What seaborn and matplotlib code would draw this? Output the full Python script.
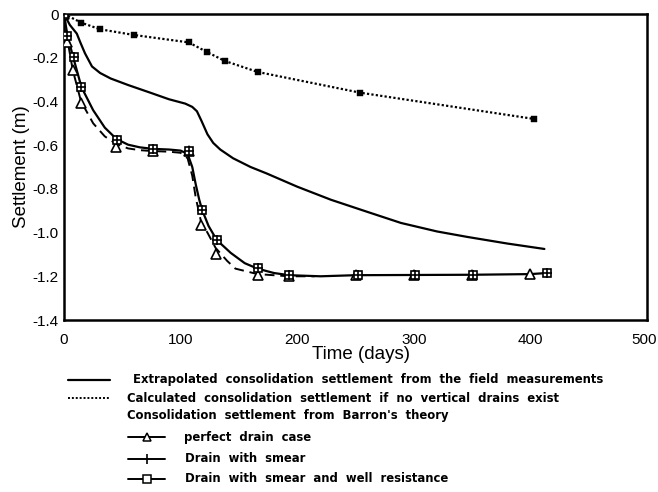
import matplotlib
matplotlib.use("Agg")
import matplotlib.pyplot as plt
import matplotlib.transforms as mtransforms
import seaborn as sns

# ---------------- data ----------------
# Extrapolated consolidation settlement from field measurements (solid)
field_t = [0, 2, 5, 8, 11, 14, 18, 24, 31, 40, 55, 74, 90, 104, 110, 114, 118, 123,
           128, 134, 145, 160, 174, 200, 229, 260, 289, 320, 346, 380, 412]
field_s = [0, -0.02, -0.05, -0.07, -0.09, -0.13, -0.18, -0.24, -0.27, -0.295, -0.325,
           -0.36, -0.39, -0.41, -0.425, -0.445, -0.49, -0.55, -0.59, -0.62, -0.66,
           -0.70, -0.73, -0.79, -0.85, -0.905, -0.956, -0.995, -1.02, -1.05, -1.075]

# Calculated settlement without vertical drains (dotted, small filled squares)
nodrain_t = [0, 15, 31, 60, 107, 123, 138, 166, 254, 403]
nodrain_s = [0, -0.04, -0.07, -0.096, -0.13, -0.175, -0.215, -0.265, -0.36, -0.48]

# Barron's theory - perfect drain (dashed curve + triangles)
perfect_curve_t = [0, 3, 7.5, 14.6, 25, 35, 45, 55, 65, 76, 90, 100, 106, 110, 113,
                   117.5, 123, 130, 140, 147, 166, 193, 215]
perfect_curve_s = [0, -0.12, -0.256, -0.4, -0.5, -0.56, -0.595, -0.615, -0.623, -0.627,
                   -0.63, -0.635, -0.66, -0.74, -0.84, -0.95, -1.0, -1.07, -1.13,
                   -1.165, -1.19, -1.2, -1.2]
perfect_pts_t = [0, 2.5, 7.5, 14.6, 45, 76, 107, 117.5, 130, 166, 193, 250, 300, 350, 400]
perfect_pts_s = [0, -0.13, -0.256, -0.405, -0.61, -0.625, -0.625, -0.965, -1.098,
                 -1.194, -1.2, -1.195, -1.195, -1.195, -1.19]

# Barron's theory - drain with smear (solid curve + plus markers)
smear_curve_t = [0, 3, 8, 15, 25, 35, 45, 55, 65, 76, 90, 100, 106, 110, 113, 116,
                 118.5, 124, 131, 143, 155, 166, 180, 193, 220, 250, 300, 350, 400, 414]
smear_curve_s = [0, -0.1, -0.2, -0.335, -0.44, -0.52, -0.572, -0.598, -0.61, -0.617,
                 -0.62, -0.625, -0.64, -0.7, -0.78, -0.85, -0.897, -0.97, -1.034,
                 -1.093, -1.14, -1.165, -1.185, -1.195, -1.2, -1.195, -1.194, -1.193,
                 -1.19, -1.185]
smear_pts_t = [0, 2.5, 8.6, 14.6, 45.6, 76.5, 107, 118.5, 131, 166, 193, 252, 301, 351, 414]
smear_pts_s = [0, -0.1, -0.196, -0.335, -0.577, -0.618, -0.625, -0.897, -1.034,
               -1.162, -1.195, -1.194, -1.194, -1.194, -1.185]

# Barron's theory - drain with smear and well resistance (square markers)
well_pts_t = [0, 2.5, 8.6, 14.6, 45.6, 76.5, 107, 118.5, 131, 166, 193, 252, 301, 351, 414]
well_pts_s = [0, -0.1, -0.196, -0.335, -0.577, -0.618, -0.625, -0.897, -1.034,
              -1.162, -1.195, -1.194, -1.194, -1.194, -1.185]

x_ticks = [0, 100, 200, 300, 400, 500]
y_ticks = [0, -0.2, -0.4, -0.6, -0.8, -1.0, -1.2, -1.4]
y_tick_labels = ["0", "-0.2", "-0.4", "-0.6", "-0.8", "-1.0", "-1.2", "-1.4"]

legend_texts = [
    "Extrapolated  consolidation  settlement  from  the  field  measurements",
    "Calculated  consolidation  settlement  if  no  vertical  drains  exist",
    "Consolidation  settlement  from  Barron's  theory",
    "perfect  drain  case",
    "Drain  with  smear",
    "Drain  with  smear  and  well  resistance",
]

# ---------------- plot ----------------
sns.set_theme(style="white")
plt.rcParams["font.family"] = ["Liberation Sans", "DejaVu Sans"]

W, H = 658, 492
fig = plt.figure(figsize=(W / 100, H / 100), dpi=100)
ax = fig.add_axes([64 / W, 1 - 320 / H, (647 - 64) / W, (320 - 14) / H])

k = "black"
sns.lineplot(x=field_t, y=field_s, ax=ax, color=k, lw=1.6, sort=False, estimator=None)
sns.lineplot(x=nodrain_t, y=nodrain_s, ax=ax, color=k, lw=1.6, sort=False,
             estimator=None, linestyle=(0, (1, 1)))
sns.scatterplot(x=nodrain_t, y=nodrain_s, ax=ax, color=k, marker="s", s=14,
                edgecolor=k, zorder=4)
sns.lineplot(x=perfect_curve_t, y=perfect_curve_s, ax=ax, color=k, lw=1.4,
             sort=False, estimator=None, linestyle=(0, (5, 3)))
sns.lineplot(x=smear_curve_t, y=smear_curve_s, ax=ax, color=k, lw=1.6,
             sort=False, estimator=None)
ax.plot(perfect_pts_t, perfect_pts_s, ls="none", marker="^", ms=7, mfc="white",
        mec=k, mew=1.2, zorder=5)
ax.plot(well_pts_t, well_pts_s, ls="none", marker="s", ms=6, mfc="white",
        mec=k, mew=1.2, zorder=6)
ax.plot(smear_pts_t, smear_pts_s, ls="none", marker="+", ms=7, mec=k, mew=1.2,
        zorder=7)

ax.set_xlim(0, 500)
ax.set_ylim(-1.4, 0)
ax.set_xticks(x_ticks)
ax.set_xticklabels([str(v) for v in x_ticks])
ax.set_yticks(y_ticks)
ax.set_yticklabels(y_tick_labels)
ax.tick_params(axis="both", direction="in", length=7, width=1.3, labelsize=11,
               colors=k, labelcolor=k, pad=4)
ax.tick_params(axis="x", pad=9)
for sp in ax.spines.values():
    sp.set_visible(True)
    sp.set_color(k)
    sp.set_linewidth(1.8)
# keep the last x tick label inside the canvas
last = ax.get_xticklabels()[-1]
last.set_transform(last.get_transform() +
                   mtransforms.ScaledTranslation(-3 / 100, 0, fig.dpi_scale_trans))

ax.set_xlabel("Time (days)", fontsize=13.5, va="center", color=k)
ax.set_ylabel("Settlement (m)", fontsize=13.5, labelpad=2, color=k)
ax.xaxis.set_label_coords(0.51, -0.112)
ax.grid(False)

# ---------------- legend ----------------
lax = fig.add_axes([0, 0, 1, 1], zorder=-1)
lax.set_xlim(0, W)
lax.set_ylim(H, 0)
lax.axis("off")
lfont = dict(fontsize=8.4, fontweight="bold", family=["DejaVu Sans"], va="center",
             ha="left", color=k)
lax.plot([68, 110], [380, 380], color=k, lw=1.6)
lax.plot([68, 110], [398, 398], color=k, lw=1.4, linestyle=(0, (1, 1)))
lax.plot([128, 165], [437, 437], color=k, lw=1.4)
lax.plot([146.5], [437], marker="^", ms=6, mfc="white", mec=k, mew=1.1)
lax.plot([128, 165], [459, 459], color=k, lw=1.4)
lax.plot([146.5], [459], marker="|", ms=7, mec=k, mew=1.2)
lax.plot([128, 165], [479, 479], color=k, lw=1.4)
lax.plot([146.5], [479], marker="s", ms=5.5, mfc="white", mec=k, mew=1.1)
rows_x = [133, 127, 127, 184, 185, 185]
rows_y = [380, 398, 416, 437, 459, 479]
for tx, ty, s in zip(rows_x, rows_y, legend_texts):
    lax.text(tx, ty, s, **lfont)

fig.savefig("out.png", dpi=100)
